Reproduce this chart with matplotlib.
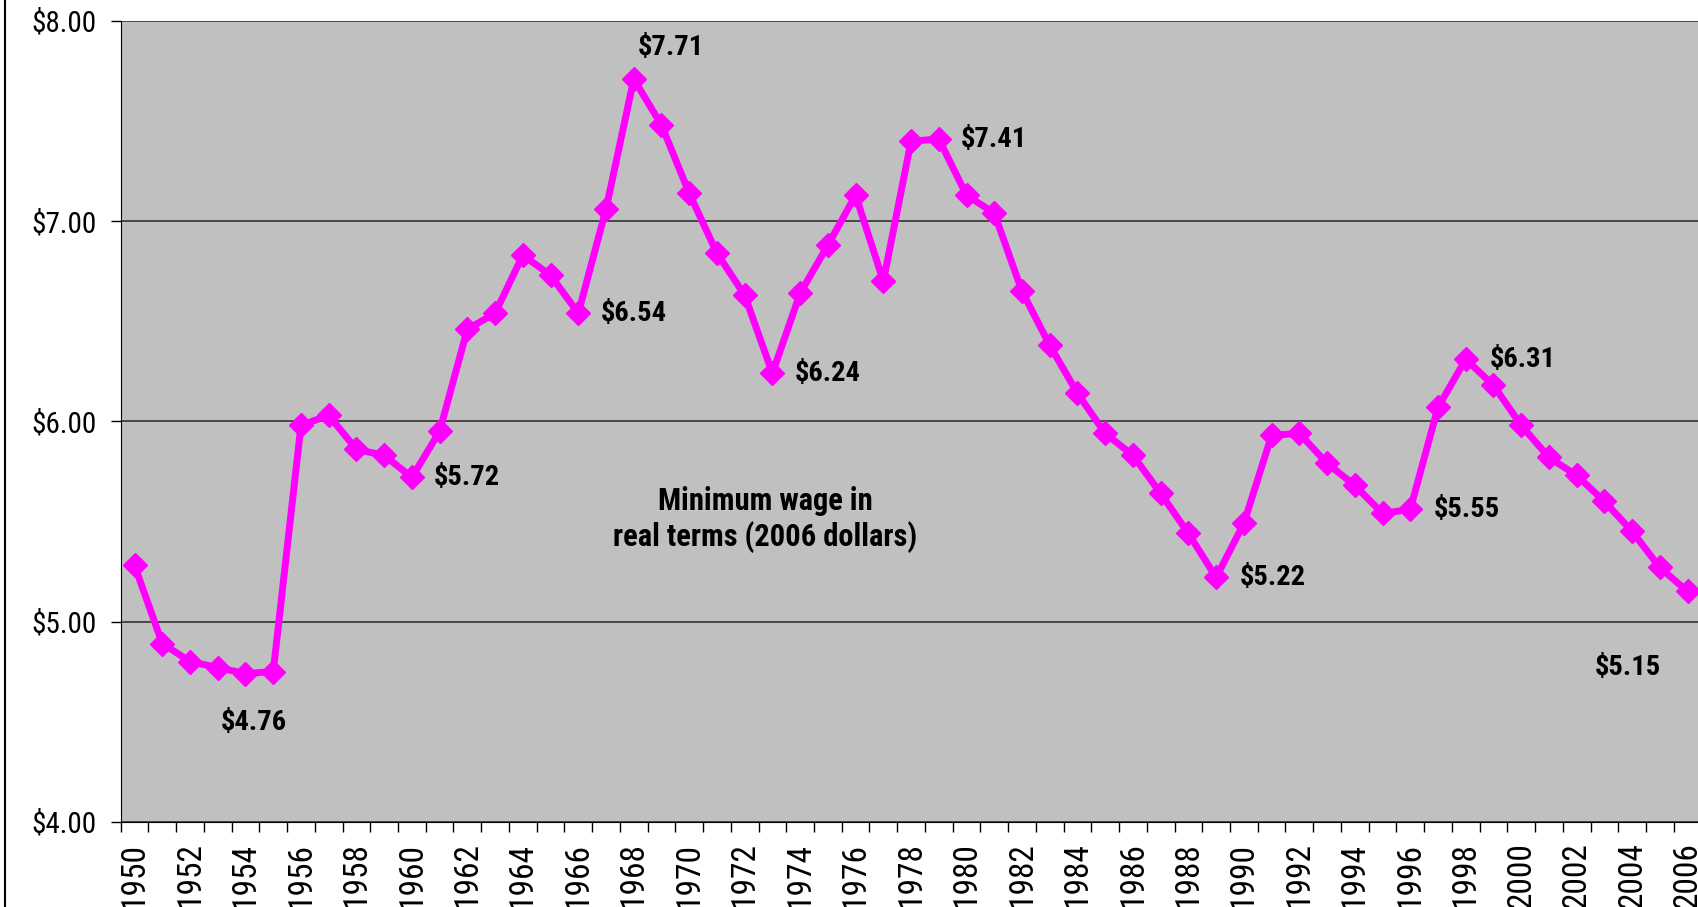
import matplotlib
matplotlib.use("Agg")
import matplotlib.pyplot as plt
from matplotlib.lines import Line2D

plt.rcParams['font.family'] = ['Roboto Condensed', 'PT Sans Narrow', 'Liberation Sans', 'DejaVu Sans']

years = list(range(1950, 2007))
wage = [5.28, 4.89, 4.80, 4.77, 4.74, 4.75, 5.98, 6.03, 5.86, 5.83,
        5.72, 5.95, 6.46, 6.54, 6.83, 6.73, 6.54, 7.06, 7.71, 7.48,
        7.14, 6.84, 6.63, 6.24, 6.64, 6.88, 7.13, 6.70, 7.40, 7.41,
        7.13, 7.04, 6.65, 6.38, 6.14, 5.94, 5.83, 5.64, 5.44, 5.22,
        5.49, 5.93, 5.94, 5.79, 5.68, 5.54, 5.56, 6.07, 6.31, 6.18,
        5.98, 5.82, 5.73, 5.60, 5.45, 5.27, 5.15]

# labelled points: year, text, offset in points from the marker
label_years = [1954, 1960, 1966, 1968, 1973, 1979, 1989, 1996, 1998, 2006]
label_text = ["$4.76", "$5.72", "$6.54", "$7.71", "$6.24", "$7.41",
              "$5.22", "$5.55", "$6.31", "$5.15"]
label_offset = [(-18, -35), (16, 0), (16, 0), (3, 23), (16, 0), (16, 0),
                (17, 0), (17, 0), (17, 0), (-67, -55)]

series_note = "Minimum wage in\nreal terms (2006 dollars)"
y_ticks = [4, 5, 6, 7, 8]

fig = plt.figure(figsize=(16.99, 9.07), dpi=100)
ax = fig.add_axes([0.07104, 0.09405, 0.9304, 0.8828])
ax.set_facecolor('#c0c0c0')

ax.plot(years, wage, color='#ff00ff', linewidth=5, marker='D', markersize=12,
        zorder=3, clip_on=False)

for yr, txt, off in zip(label_years, label_text, label_offset):
    v = wage[years.index(yr)]
    ax.annotate(txt, (yr, v), xytext=off, textcoords='offset points',
                ha='left', va='center', fontsize=20.5, fontweight='bold')

ax.text(1972.73, 5.51, series_note, ha='center', va='center',
        fontsize=22, fontweight='bold', linespacing=1.2)

ax.set_xlim(1949.5, 2006.5)
ax.set_ylim(4, 8)
ax.set_yticks(y_ticks)
ax.set_yticklabels([f"${v:.2f}" for v in y_ticks])
ax.yaxis.grid(True, color='#333333', linewidth=1.2)
ax.set_axisbelow(True)

# category boundaries get the tick marks, every other year gets a label
ax.set_xticks([y + 0.5 for y in years[:-1]] + [1949.5], minor=False)
ax.set_xticklabels([])
ax.set_xticks(years[::2], minor=True)
ax.set_xticklabels([str(y) for y in years[::2]], minor=True, rotation=90)
ax.tick_params(axis='x', which='major', length=7.5, width=1, color='black')
ax.tick_params(axis='x', which='minor', length=0, pad=15, labelsize=24)
ax.tick_params(axis='y', length=7.5, width=1, pad=10, labelsize=21)

for side in ['top', 'right']:
    ax.spines[side].set_visible(False)
ax.spines['left'].set_color('black')
ax.spines['bottom'].set_color('black')

fig.add_artist(Line2D([5 / 1699, 5 / 1699], [0, 1], color='black', linewidth=1.5))

fig.savefig('out.png', dpi=100)
